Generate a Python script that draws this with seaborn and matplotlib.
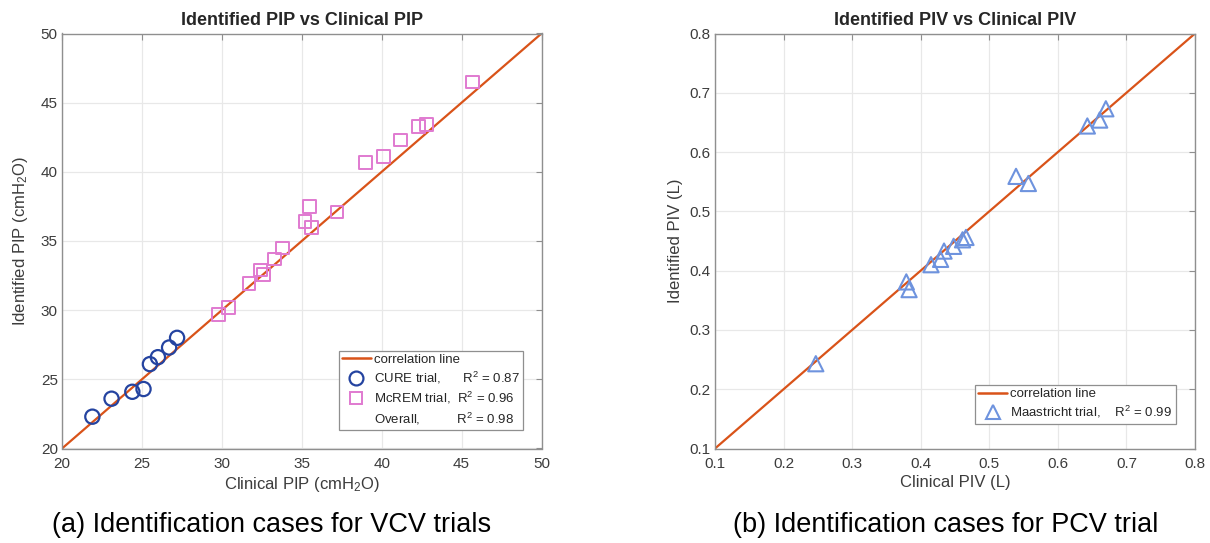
import numpy as np
import pandas as pd
import matplotlib
matplotlib.use("Agg")
import matplotlib.pyplot as plt
from matplotlib.lines import Line2D
from matplotlib.ticker import FormatStrFormatter
import seaborn as sns

# --- data -------------------------------------------------------------
cure_clinical = [21.9, 23.1, 24.4, 25.1, 25.5, 26.0, 26.7, 27.2]
cure_identified = [22.3, 23.6, 24.1, 24.3, 26.1, 26.6, 27.3, 28.0]

mcrem_clinical = [29.8, 30.4, 31.7, 32.4, 32.6, 33.3, 33.8, 35.2, 35.5, 35.6,
                  37.2, 39.0, 40.1, 41.2, 42.3, 42.8, 45.7]
mcrem_identified = [29.7, 30.2, 31.9, 32.9, 32.6, 33.7, 34.5, 36.4, 37.5, 36.0,
                    37.1, 40.7, 41.1, 42.3, 43.3, 43.4, 46.5]

maas_clinical = [0.247, 0.379, 0.383, 0.415, 0.429, 0.434, 0.448, 0.461, 0.466,
                 0.539, 0.557, 0.643, 0.661, 0.670]
maas_identified = [0.243, 0.381, 0.368, 0.410, 0.419, 0.433, 0.441, 0.452, 0.456,
                   0.559, 0.547, 0.644, 0.654, 0.673]

pip_limits = [20, 50]
piv_limits = [0.1, 0.8]
pip_ticks = [20, 25, 30, 35, 40, 45, 50]
piv_ticks = [0.1, 0.2, 0.3, 0.4, 0.5, 0.6, 0.7, 0.8]

r2_cure, r2_mcrem, r2_overall, r2_maas = 0.87, 0.96, 0.98, 0.99

# --- style ------------------------------------------------------------
sns.set_theme(style="whitegrid")
plt.rcParams["font.family"] = ["Liberation Sans", "DejaVu Sans"]
plt.rcParams["mathtext.fontset"] = "custom"
plt.rcParams["mathtext.rm"] = "Liberation Sans"
plt.rcParams["mathtext.it"] = "Liberation Sans:italic"

LINE_C = "#D95319"
CURE_C = "#2443A0"
MCREM_C = "#E07AD0"
MAAS_C = "#6E93DE"
SPINE_C = "#8f8f8f"
TEXT_C = "#3c3c3c"

fig = plt.figure(figsize=(12.10, 5.43), dpi=100)
ax1 = fig.add_axes([62 / 1210, 1 - 448.5 / 543, 479.5 / 1210, 415 / 543])
ax2 = fig.add_axes([715 / 1210, 1 - 448.5 / 543, 480 / 1210, 415 / 543])


def style_axes(ax, limits, ticks, fmt=None):
    ax.set_xlim(limits)
    ax.set_ylim(limits)
    ax.set_xticks(ticks)
    ax.set_yticks(ticks)
    if fmt:
        ax.xaxis.set_major_formatter(FormatStrFormatter(fmt))
        ax.yaxis.set_major_formatter(FormatStrFormatter(fmt))
    ax.set_facecolor("white")
    ax.grid(True, color="#e8e8e8", linewidth=0.9)
    for sp in ax.spines.values():
        sp.set_visible(True)
        sp.set_color(SPINE_C)
        sp.set_linewidth(1.0)
    ax.tick_params(direction="in", length=4, width=0.8, color=SPINE_C,
                   top=True, right=True, labelsize=11, labelcolor=TEXT_C)
    ax.tick_params(axis="x", pad=6)
    ax.tick_params(axis="y", pad=3)


legend_kw = dict(fontsize=9.5, frameon=True, fancybox=False,
                 edgecolor=SPINE_C, framealpha=1, handlelength=2.2,
                 handletextpad=0.25, borderpad=0.25, labelspacing=0.3,
                 borderaxespad=0)

# --- (a) PIP ----------------------------------------------------------
sns.lineplot(x=pip_limits, y=pip_limits, color=LINE_C, linewidth=1.6, ax=ax1)
sns.scatterplot(x=cure_clinical, y=cure_identified, marker="o", s=105,
                facecolor="none", edgecolor=CURE_C, linewidth=1.6, ax=ax1,
                zorder=3)
sns.scatterplot(x=mcrem_clinical, y=mcrem_identified, marker="s", s=85,
                facecolor="none", edgecolor=MCREM_C, linewidth=1.4, ax=ax1,
                zorder=3)
style_axes(ax1, pip_limits, pip_ticks)
ax1.set_title("Identified PIP vs Clinical PIP", fontsize=13, fontweight="bold",
              pad=6)
ax1.set_xlabel("Clinical PIP (cmH$_2$O)", fontsize=12, color=TEXT_C, labelpad=3)
ax1.set_ylabel("Identified PIP (cmH$_2$O)", fontsize=12, color=TEXT_C, labelpad=8)

handles1 = [
    Line2D([], [], color=LINE_C, linewidth=1.8),
    Line2D([], [], linestyle="none", marker="o", markersize=10,
           markerfacecolor="none", markeredgecolor=CURE_C, markeredgewidth=1.6),
    Line2D([], [], linestyle="none", marker="s", markersize=8,
           markerfacecolor="none", markeredgecolor=MCREM_C, markeredgewidth=1.4),
    Line2D([], [], linestyle="none"),
]
labels1 = [
    "correlation line",
    f"CURE trial,      R$^2$ = {r2_cure:.2f}",
    f"McREM trial,  R$^2$ = {r2_mcrem:.2f}",
    f"Overall,          R$^2$ = {r2_overall:.2f}",
]
leg1 = ax1.legend(handles1, labels1, loc="lower right",
                  bbox_to_anchor=(0.962, 0.045), **legend_kw)
leg1.get_frame().set_linewidth(0.9)

# --- (b) PIV ----------------------------------------------------------
sns.lineplot(x=piv_limits, y=piv_limits, color=LINE_C, linewidth=1.6, ax=ax2)
sns.scatterplot(x=maas_clinical, y=maas_identified, marker="^", s=120,
                facecolor="none", edgecolor=MAAS_C, linewidth=1.5, ax=ax2,
                zorder=3)
style_axes(ax2, piv_limits, piv_ticks, fmt="%.1f")
ax2.set_title("Identified PIV vs Clinical PIV", fontsize=13, fontweight="bold",
              pad=6)
ax2.set_xlabel("Clinical PIV (L)", fontsize=12, color=TEXT_C, labelpad=3)
ax2.set_ylabel("Identified PIV (L)", fontsize=12, color=TEXT_C, labelpad=5)

handles2 = [
    Line2D([], [], color=LINE_C, linewidth=1.8),
    Line2D([], [], linestyle="none", marker="^", markersize=10,
           markerfacecolor="none", markeredgecolor=MAAS_C, markeredgewidth=1.5),
]
labels2 = [
    "correlation line",
    f"Maastricht trial,    R$^2$ = {r2_maas:.2f}",
]
leg2 = ax2.legend(handles2, labels2, loc="lower right",
                  bbox_to_anchor=(0.96, 0.06), **legend_kw)
leg2.get_frame().set_linewidth(0.9)

# --- panel captions ---------------------------------------------------
fig.text(272 / 1210, 1 - 525 / 543, "(a) Identification cases for VCV trials",
         ha="center", va="center", fontsize=19.5, color="black")
fig.text(946 / 1210, 1 - 525 / 543, "(b) Identification cases for PCV trial",
         ha="center", va="center", fontsize=19.5, color="black")

fig.savefig("out.png", dpi=100, facecolor="white")
